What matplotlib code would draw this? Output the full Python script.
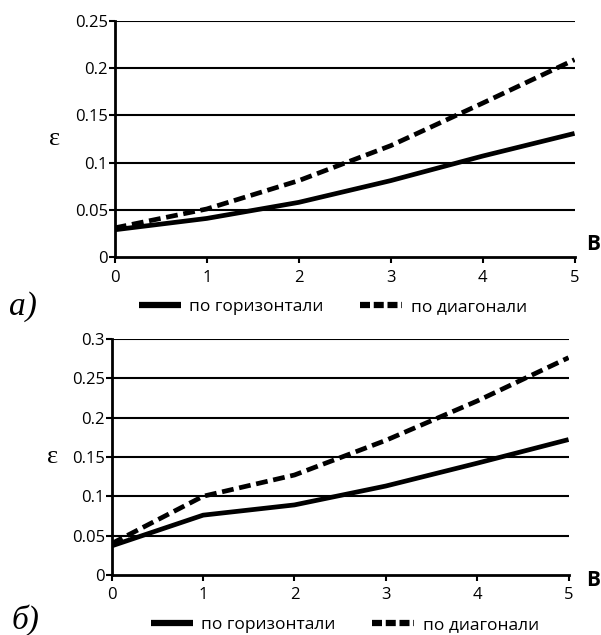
import numpy as np
import matplotlib.pyplot as plt

x = [0, 1, 2, 3, 4, 5]
# a) top panel
a_horiz = [0.029, 0.041, 0.058, 0.081, 0.107, 0.131]
a_diag = [0.031, 0.051, 0.081, 0.118, 0.163, 0.209]
# б) bottom panel
b_horiz = [0.037, 0.076, 0.089, 0.113, 0.142, 0.172]
b_diag = [0.040, 0.100, 0.127, 0.171, 0.221, 0.276]

a_yticks = [0, 0.05, 0.1, 0.15, 0.2, 0.25]
a_ylabels = ['0', '0.05', '0.1', '0.15', '0.2', '0.25']
b_yticks = [0, 0.05, 0.1, 0.15, 0.2, 0.25, 0.3]
b_ylabels = ['0', '0.05', '0.1', '0.15', '0.2', '0.25', '0.3']

lbl_h = 'по горизонтали'
lbl_d = 'по диагонали'

plt.rcParams['font.family'] = ['Open Sans', 'DejaVu Sans']

fig = plt.figure(figsize=(6.01, 6.35), dpi=100)
ax1 = fig.add_axes([0.191, 0.595, 0.765, 0.372])
ax2 = fig.add_axes([0.186, 0.0945, 0.760, 0.372])


def panel(ax, h, d, yt, yl, ymax):
    lh, = ax.plot(x, h, color='black', lw=3.4, solid_capstyle='butt', zorder=3)
    ld, = ax.plot(x, d, color='black', lw=3.4, dashes=(2.5, 1.2),
                  dash_capstyle='butt', zorder=3)
    ax.set_xlim(0, 5)
    ax.set_ylim(0, ymax)
    ax.set_xticks(x)
    ax.set_yticks(yt)
    ax.set_yticklabels(yl)
    ax.tick_params(labelsize=12, width=1.5, length=4)
    ax.tick_params(axis='x', pad=5)
    ax.tick_params(axis='y', pad=1)
    for yv in yt[1:]:
        ax.axhline(yv, color='black', lw=1.5, zorder=1)
    for s in ['top', 'right']:
        ax.spines[s].set_visible(False)
    for s in ['left', 'bottom']:
        ax.spines[s].set_linewidth(2)
    ax.text(-0.13, 0.5, 'ε', transform=ax.transAxes, fontsize=19,
            family='Liberation Serif', ha='center', va='center')
    return lh, ld


def legend(lh, ld, cx, cy):
    leg = fig.legend([lh, ld], [lbl_h, lbl_d], loc='center', ncol=2,
                     frameon=False, bbox_to_anchor=(cx, cy), fontsize=12.5,
                     handlelength=2.4, columnspacing=2.1, handletextpad=0.5)
    hs = leg.legend_handles
    hs[0].set_linewidth(4.5)
    hs[1].set_linewidth(4.5)
    hs[1].set_dashes((1.6, 0.6))
    return leg


lh, ld = panel(ax1, a_horiz, a_diag, a_yticks, a_ylabels, 0.25)
ax1.text(1.041, 0.055, 'B', transform=ax1.transAxes, fontsize=15,
         fontweight='bold', ha='center', va='center')
legend(lh, ld, 0.554, 0.516)
fig.text(0.015, 0.505, 'а)', fontsize=24, style='italic',
         family='Liberation Serif')

lh, ld = panel(ax2, b_horiz, b_diag, b_yticks, b_ylabels, 0.3)
ax2.text(1.053, -0.025, 'B', transform=ax2.transAxes, fontsize=15,
         fontweight='bold', ha='center', va='center')
legend(lh, ld, 0.574, 0.016)
fig.text(0.02, 0.01, 'б)', fontsize=24, style='italic',
         family='Liberation Serif')

plt.savefig('out.png', dpi=100)
